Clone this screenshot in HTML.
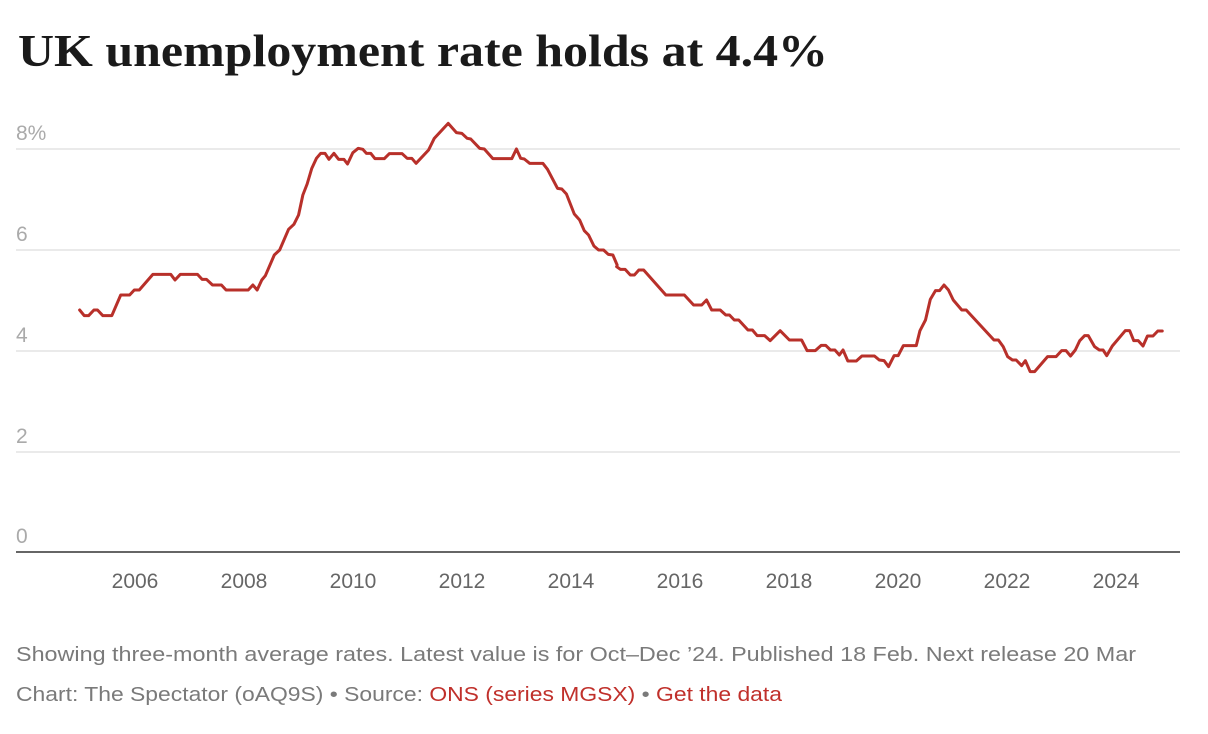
<!DOCTYPE html>
<html><head><meta charset="utf-8"><style>
html,body{margin:0;padding:0;background:#fff;}
svg{display:block;}
</style></head><body>
<svg width="1208" height="734" viewBox="0 0 1208 734" xmlns="http://www.w3.org/2000/svg">
<text x="18" y="66" font-family="Liberation Serif, serif" font-weight="bold" font-size="46" fill="#1a1a1a" textLength="810" lengthAdjust="spacingAndGlyphs">UK unemployment rate holds at 4.4%</text>
<g stroke="#e4e4e4" stroke-width="1.5">
<line x1="16" y1="149" x2="1180" y2="149"/>
<line x1="16" y1="250" x2="1180" y2="250"/>
<line x1="16" y1="351" x2="1180" y2="351"/>
<line x1="16" y1="452" x2="1180" y2="452"/>
</g>
<line x1="16" y1="552" x2="1180" y2="552" stroke="#333" stroke-width="1.5"/>
<g font-family="Liberation Sans, sans-serif" font-size="21" fill="#aaa">
<text x="16" y="140">8%</text>
<text x="16" y="241">6</text>
<text x="16" y="342">4</text>
<text x="16" y="443">2</text>
<text x="16" y="543">0</text>
</g>
<g font-family="Liberation Sans, sans-serif" font-size="21" fill="#666" text-anchor="middle">
<text x="135" y="588">2006</text>
<text x="244" y="588">2008</text>
<text x="353" y="588">2010</text>
<text x="462" y="588">2012</text>
<text x="571" y="588">2014</text>
<text x="680" y="588">2016</text>
<text x="789" y="588">2018</text>
<text x="898" y="588">2020</text>
<text x="1007" y="588">2022</text>
<text x="1116" y="588">2024</text>
</g>
<g fill="none" stroke="#b8302a" stroke-width="3" stroke-linejoin="round" stroke-linecap="round">
<g transform="translate(60,110) scale(0.357143,0.333333)">
<polyline vector-effect="non-scaling-stroke" points="55,600 68,617 80,617 95,600 105,600 120,617 145,617 170,555 195,555 208,540 222,540 260,493 310,493 322,510 337,493 385,493 398,508 410,508 427,525 452,525 465,540 527,540 540,525 552,540 565,510 575,497 600,435 615,420 640,358 655,343 668,315 680,255 692,222 705,175 718,145 730,130 742,130 753,148 767,130 780,148 795,148 805,162 820,128 835,115 848,118 858,130 870,130 882,146 908,146 922,131 958,131 972,145 985,145 997,160 1032,120 1048,85 1087,40 1110,68 1125,70 1140,85 1150,87 1175,115 1188,117 1212,146 1265,146 1278,117 1290,145 1300,147 1315,160 1352,160 1365,178 1393,235 1405,237 1418,252 1440,312 1455,330 1468,362 1480,375 1495,408 1508,420 1522,420 1535,433 1548,435 1560,465"/>
</g>
<g transform="translate(600,260) scale(0.369898,0.333333)">
<polyline vector-effect="non-scaling-stroke" points="45,20 55,28 68,28 82,45 93,45 105,30 118,30 178,105 228,105 253,135 275,135 288,120 302,150 325,150 340,165 350,165 363,180 375,180 400,210 412,210 425,227 445,227 460,242 487,212 512,240 545,240 560,272 582,272 598,256 610,256 623,270 635,270 647,285 657,270 670,303 693,303 708,288 742,288 755,300 768,302 780,320 795,287 806,287 820,257 855,257 865,212 880,180 893,118 907,92 918,92 930,75 942,90 955,120 978,150 990,150 1065,240 1077,240 1090,260 1102,290 1115,300 1125,300 1140,317 1150,302 1163,335 1175,335 1210,290 1233,290 1248,272 1260,272 1272,288 1285,270 1297,242 1310,227 1320,227 1337,260 1350,270 1360,270 1370,287 1385,258 1420,212 1432,212 1443,242 1455,242 1468,258 1480,228 1495,228 1508,213 1520,213"/>
</g>
</g>
<g font-family="Liberation Sans, sans-serif" font-size="20" fill="#7a7a7a">
<text x="16" y="661" textLength="1120" lengthAdjust="spacingAndGlyphs">Showing three-month average rates. Latest value is for Oct–Dec ’24. Published 18 Feb. Next release 20 Mar</text>
<text x="16" y="701" textLength="766" lengthAdjust="spacingAndGlyphs">Chart: The Spectator (oAQ9S) • Source: <tspan fill="#c0302b">ONS (series MGSX)</tspan> • <tspan fill="#c0302b">Get the data</tspan></text>
</g>
</svg>
</body></html>
